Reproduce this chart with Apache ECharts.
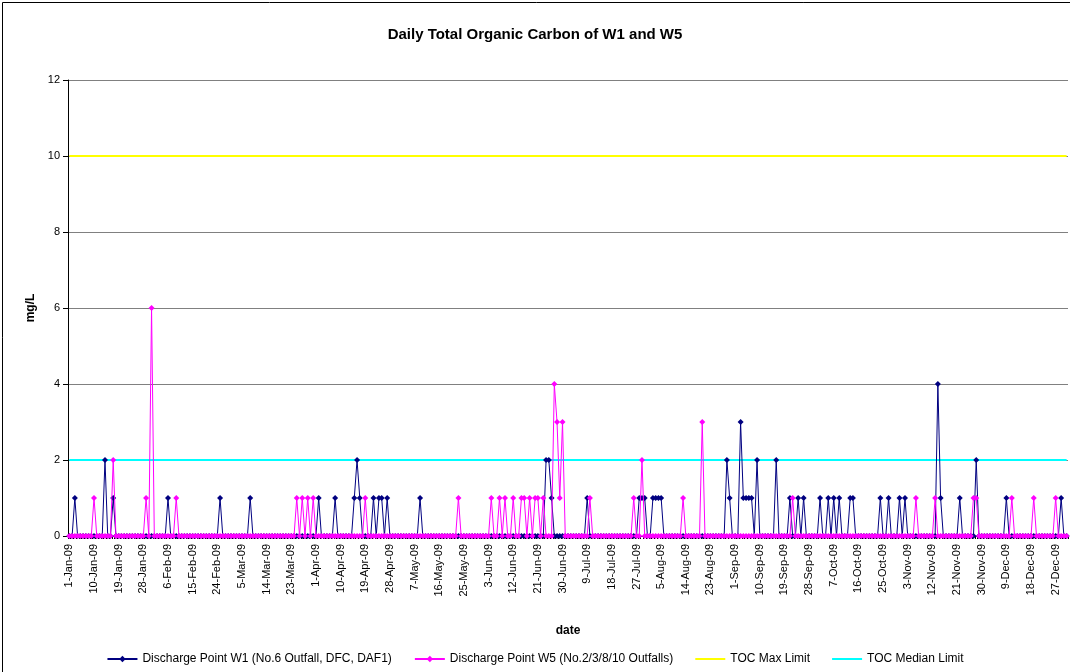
<!DOCTYPE html>
<html>
<head>
<meta charset="utf-8">
<script src="https://cdn.jsdelivr.net/npm/echarts@6/dist/echarts.min.js"></script>
<style>
html,body{margin:0;padding:0;background:#fff;}
#chart{width:1070px;height:672px;}
</style>
</head>
<body>
<div id="chart"></div>
<script>
// ---- DATA (daily values, 2009, one row per month) ----
const year = 2009;
const monthNames = ['Jan','Feb','Mar','Apr','May','Jun','Jul','Aug','Sep','Oct','Nov','Dec'];
const yTicks = [0, 2, 4, 6, 8, 10, 12];

const w1Monthly = [
  [0,0,1,0,0,0,0,0,0,0, 0,0,0,2,0,0,1,0,0,0, 0,0,0,0,0,0,0,0,0,0, 0],
  [0,0,0,0,0,1,0,0,0,0, 0,0,0,0,0,0,0,0,0,0, 0,0,0,0,1,0,0,0],
  [0,0,0,0,0,0,0,1,0,0, 0,0,0,0,0,0,0,0,0,0, 0,0,0,0,0,0,0,0,0,0, 0],
  [0,1,0,0,0,0,0,1,0,0, 0,0,0,0,1,2,1,0,0,0, 0,1,0,1,1,0,1,0,0,0],
  [0,0,0,0,0,0,0,0,1,0, 0,0,0,0,0,0,0,0,0,0, 0,0,0,0,0,0,0,0,0,0, 0],
  [0,0,0,0,0,0,0,0,0,0, 0,0,0,0,0,0,0,0,0,0, 0,0,0,2,2,1,0,0,0,0],
  [0,0,0,0,0,0,0,0,1,0, 0,0,0,0,0,0,0,0,0,0, 0,0,0,0,0,0,0,1,1,1, 0],
  [0,1,1,1,1,0,0,0,0,0, 0,0,0,0,0,0,0,0,0,0, 0,0,0,0,0,0,0,0,2,1, 0],
  [0,0,3,1,1,1,1,0,2,0, 0,0,0,0,0,2,0,0,0,0, 1,0,0,1,0,1,0,0,0,0],
  [0,1,0,0,1,0,1,0,1,0, 0,0,1,1,0,0,0,0,0,0, 0,0,0,1,0,0,1,0,0,0, 1],
  [0,1,0,0,0,0,0,0,0,0, 0,0,0,4,1,0,0,0,0,0, 0,1,0,0,0,0,0,2,0,0],
  [0,0,0,0,0,0,0,0,1,0, 0,0,0,0,0,0,0,0,0,0, 0,0,0,0,0,0,0,0,1,0, 0]
];

const w5Monthly = [
  [0,0,0,0,0,0,0,0,0,1, 0,0,0,0,0,0,2,0,0,0, 0,0,0,0,0,0,0,0,1,0, 6],
  [0,0,0,0,0,0,0,0,1,0, 0,0,0,0,0,0,0,0,0,0, 0,0,0,0,0,0,0,0],
  [0,0,0,0,0,0,0,0,0,0, 0,0,0,0,0,0,0,0,0,0, 0,0,0,0,1,0,1,0,1,0, 1],
  [0,0,0,0,0,0,0,0,0,0, 0,0,0,0,0,0,0,0,1,0, 0,0,0,0,0,0,0,0,0,0],
  [0,0,0,0,0,0,0,0,0,0, 0,0,0,0,0,0,0,0,0,0, 0,0,1,0,0,0,0,0,0,0, 0],
  [0,0,0,1,0,0,1,0,1,0, 0,1,0,0,1,1,0,1,0,1, 1,0,1,0,0,0,4,3,1,3],
  [0,0,0,0,0,0,0,0,0,1, 0,0,0,0,0,0,0,0,0,0, 0,0,0,0,0,1,0,0,2,0, 0],
  [0,0,0,0,0,0,0,0,0,0, 0,0,1,0,0,0,0,0,0,3, 0,0,0,0,0,0,0,0,0,0, 0],
  [0,0,0,0,0,0,0,0,0,0, 0,0,0,0,0,0,0,0,0,0, 0,1,0,0,0,0,0,0,0,0],
  [0,0,0,0,0,0,0,0,0,0, 0,0,0,0,0,0,0,0,0,0, 0,0,0,0,0,0,0,0,0,0, 0],
  [0,0,0,0,0,1,0,0,0,0, 0,0,1,0,0,0,0,0,0,0, 0,0,0,0,0,0,1,1,0,0],
  [0,0,0,0,0,0,0,0,0,0, 1,0,0,0,0,0,0,0,1,0, 0,0,0,0,0,0,1,0,0,0, 0]
];

const tocMaxLimit = 10;
const tocMedianLimit = 2;

const seriesNames = [
  'Discharge Point W1 (No.6 Outfall, DFC, DAF1)',
  'Discharge Point W5 (No.2/3/8/10 Outfalls)',
  'TOC Max Limit',
  'TOC Median Limit'
];

// ---- build categories (date labels) ----
const dates = [];
w1Monthly.forEach((month, m) => {
  month.forEach((v, d) => {
    dates.push((d + 1) + '-' + monthNames[m] + '-' + String(year).slice(2));
  });
});
const w1 = [].concat(...w1Monthly);
const w5 = [].concat(...w5Monthly);
// limit lines: the same constant on every day
const maxLine = dates.map(() => tocMaxLimit);
const medianLine = dates.map(() => tocMedianLimit);

const chart = echarts.init(document.getElementById('chart'), null, {renderer: 'canvas'});
const font = 'Liberation Sans, Arial, sans-serif';
const plainLineIcon = 'path://M0,0h30v2h-30z';

chart.setOption({
  backgroundColor: '#ffffff',
  animation: false,
  textStyle: {fontFamily: font, color: '#000'},
  title: {
    text: 'Daily Total Organic Carbon of W1 and W5',
    left: 'center', top: 22,
    textStyle: {fontFamily: font, fontSize: 15, fontWeight: 'bold', color: '#000'}
  },
  legend: {
    bottom: 2, left: 'center',
    itemWidth: 30, itemHeight: 8, itemGap: 22,
    symbolKeepAspect: true,
    textStyle: {fontFamily: font, fontSize: 12, color: '#000'},
    data: [
      {name: seriesNames[0]},
      {name: seriesNames[1]},
      {name: seriesNames[2], icon: plainLineIcon},
      {name: seriesNames[3], icon: plainLineIcon}
    ]
  },
  grid: {left: 68, right: 2, top: 80, bottom: 136, containLabel: false},
  xAxis: {
    type: 'category',
    data: dates,
    boundaryGap: true,
    name: 'date',
    nameLocation: 'middle',
    nameGap: 89,
    nameTextStyle: {fontFamily: font, fontSize: 12, fontWeight: 'bold', color: '#000'},
    axisLine: {lineStyle: {color: '#000', width: 1}},
    axisTick: {show: true, interval: 0, length: 3, lineStyle: {color: '#000'}},
    axisLabel: {interval: 8, rotate: 90, fontSize: 11, color: '#000', fontFamily: font, margin: 8},
    splitLine: {show: false}
  },
  yAxis: {
    type: 'value',
    min: yTicks[0], max: yTicks[yTicks.length - 1], interval: 2,
    name: 'mg/L',
    nameLocation: 'middle',
    nameGap: 31,
    nameRotate: 90,
    nameTextStyle: {fontFamily: font, fontSize: 12, fontWeight: 'bold', color: '#000'},
    axisLine: {show: true, lineStyle: {color: '#000', width: 1}},
    axisTick: {show: true, length: 5, lineStyle: {color: '#000'}},
    axisLabel: {fontSize: 11, color: '#000', fontFamily: font, margin: 8},
    splitLine: {show: true, lineStyle: {color: '#808080', width: 1}}
  },
  series: [
    {
      name: seriesNames[2], type: 'line', data: maxLine,
      color: '#FFFF00', symbol: 'none', showSymbol: false,
      lineStyle: {color: '#FFFF00', width: 2},
      itemStyle: {color: '#FFFF00'},
      z: 2
    },
    {
      name: seriesNames[3], type: 'line', data: medianLine,
      color: '#00FFFF', symbol: 'none', showSymbol: false,
      lineStyle: {color: '#00FFFF', width: 2},
      itemStyle: {color: '#00FFFF'},
      z: 2
    },
    {
      name: seriesNames[0], type: 'line', data: w1,
      color: '#000080',
      symbol: 'diamond', symbolSize: 6, showSymbol: true, showAllSymbol: true,
      lineStyle: {color: '#000080', width: 1},
      itemStyle: {color: '#000080'},
      z: 3
    },
    {
      name: seriesNames[1], type: 'line', data: w5,
      color: '#FF00FF',
      symbol: 'diamond', symbolSize: 6, showSymbol: true, showAllSymbol: true,
      lineStyle: {color: '#FF00FF', width: 1},
      itemStyle: {color: '#FF00FF'},
      z: 4
    }
  ],
  graphic: [{
    type: 'rect', left: 0, top: 0, silent: true,
    shape: {x: 0.5, y: 0.5, width: 1069, height: 671},
    style: {fill: 'none', stroke: '#000', lineWidth: 1}
  }]
});
</script>
</body>
</html>
